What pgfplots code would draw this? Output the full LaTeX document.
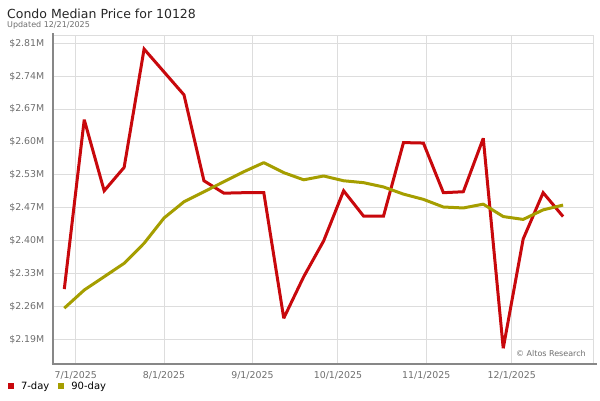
\documentclass[border=0pt]{standalone}
\usepackage{fontspec}
\setmainfont{DejaVu Sans}
\usepackage{pgfplots}
\usepackage{pgfplotstable}
\pgfplotsset{compat=1.18}
\definecolor{redline}{RGB}{200,8,12}
\definecolor{oliveline}{RGB}{165,158,0}
\definecolor{gridc}{RGB}{221,221,221}
\definecolor{tickc}{RGB}{110,110,110}
\definecolor{axisc}{RGB}{135,135,135}

\pgfplotstableread{
d seven ninety
-4 2.295 2.255
3 2.650 2.293
10 2.501 2.321
17 2.550 2.349
24 2.798 2.391
31 2.750 2.444
38 2.702 2.478
45 2.522 2.499
52 2.496 2.520
59 2.497 2.541
66 2.497 2.560
73 2.234 2.539
80 2.321 2.524
87 2.396 2.532
94 2.501 2.522
101 2.448 2.518
108 2.448 2.509
115 2.602 2.494
122 2.601 2.483
129 2.497 2.467
136 2.499 2.465
143 2.611 2.473
150 2.171 2.447
157 2.400 2.441
164 2.497 2.461
171 2.447 2.471
}\datatable

\begin{document}
\begin{tikzpicture}[x=1bp,y=1bp]
\useasboundingbox (0,0) rectangle (600,400);
\begin{axis}[
  at={(53bp,36bp)}, anchor=south west,
  scale only axis, width=540bp, height=328.3bp,
  xmin=-7.96, xmax=181.5,
  ymin=2.138, ymax=2.826,
  xtick={0,31,62,92,123,153},
  xticklabels={7/1/2025,8/1/2025,9/1/2025,10/1/2025,11/1/2025,12/1/2025},
  ytick={2.19,2.258889,2.327778,2.396667,2.465556,2.534444,2.603333,2.672222,2.741111,2.81},
  yticklabels={\$2.19M,\$2.26M,\$2.33M,\$2.40M,\$2.47M,\$2.53M,\$2.60M,\$2.67M,\$2.74M,\$2.81M},
  grid=major,
  major grid style={color=gridc, line width=1bp},
  axis line style={color=gridc, line width=1bp},
  tick style={draw=none},
  major tick length=0pt,
  ticklabel style={font=\fontsize{9.4bp}{11bp}\selectfont, text=tickc},
  yticklabel style={inner sep=0pt, xshift=-8.5bp},
  xticklabel style={inner sep=0pt, yshift=-7.5bp},
  legend style={at={(axis description cs:-0.0833,-0.067)}, anchor=west,
    draw=none, fill=none, inner sep=0pt, outer sep=0pt,
    font=\fontsize{10bp}{11bp}\selectfont,
    /tikz/every odd column/.append style={column sep=5bp},
    /tikz/every even column/.append style={column sep=7bp}},
  legend columns=2,
  legend image code/.code={\fill[#1, draw=none] (0bp,-3bp) rectangle (6bp,3bp);},
]
\addplot[color=redline, line width=3bp, line join=miter, miter limit=3] table[x=d, y=seven] {\datatable};
\addlegendentry{7-day}
\addplot[color=oliveline, line width=3bp, line join=round] table[x=d, y=ninety] {\datatable};
\addlegendentry{90-day}
\end{axis}
\draw[line width=2.6bp, color=axisc] (52.8,367) -- (52.8,35.5);
\draw[line width=2.2bp, color=axisc] (51.5,35.8) -- (597,35.8);
\node[anchor=base west, inner sep=0pt, text=black!85, font=\fontsize{12.5bp}{14bp}\selectfont] at (7,381.7) {Condo Median Price for 10128};
\node[anchor=base west, inner sep=0pt, text=tickc, font=\fontsize{8bp}{9bp}\selectfont] at (7,372.7) {Updated 12/21/2025};
\node[anchor=east, inner sep=0pt, text=tickc, font=\fontsize{8bp}{9bp}\selectfont] at (586,46) {© Altos Research};
\end{tikzpicture}
\end{document}
